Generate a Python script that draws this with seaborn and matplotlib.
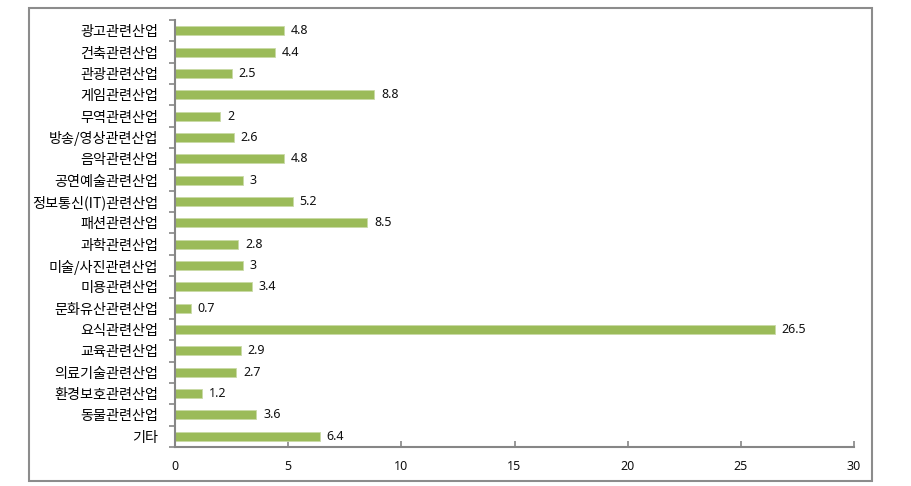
import matplotlib
matplotlib.use("Agg")
import matplotlib.pyplot as plt
import seaborn as sns
import pandas as pd
from matplotlib.patches import Rectangle

categories = ["광고관련산업", "건축관련산업", "관광관련산업", "게임관련산업", "무역관련산업",
              "방송/영상관련산업", "음악관련산업", "공연예술관련산업", "정보통신(IT)관련산업",
              "패션관련산업", "과학관련산업", "미술/사진관련산업", "미용관련산업",
              "문화유산관련산업", "요식관련산업", "교육관련산업", "의료기술관련산업",
              "환경보호관련산업", "동물관련산업", "기타"]
values = [4.8, 4.4, 2.5, 8.8, 2, 2.6, 4.8, 3, 5.2, 8.5, 2.8, 3, 3.4, 0.7, 26.5, 2.9, 2.7, 1.2, 3.6, 6.4]
value_labels = ["4.8", "4.4", "2.5", "8.8", "2", "2.6", "4.8", "3", "5.2", "8.5", "2.8", "3", "3.4",
                "0.7", "26.5", "2.9", "2.7", "1.2", "3.6", "6.4"]
xticks = [0, 5, 10, 15, 20, 25, 30]

sns.set_theme(style="white")
plt.rcParams['font.family'] = ['Noto Sans CJK KR', 'DejaVu Sans']

df = pd.DataFrame({"cat": categories, "val": values})

fig = plt.figure(figsize=(9.12, 4.86), dpi=100)
ax = fig.add_axes([175/912, 1-447/486, (854-175)/912, (447-20)/486])

sns.barplot(data=df, y="cat", x="val", orient="h", color="#9BBB59", saturation=1,
            width=0.42, edgecolor="#C9DAA6", linewidth=0.6, ax=ax)

for i, (v, lab) in enumerate(zip(values, value_labels)):
    ax.text(v + 0.3, i, lab, va="center", ha="left", fontsize=9, color="#111111",
            family=['Noto Sans', 'DejaVu Sans'])

ax.set_xlim(0, 30)
ax.set_ylim(len(categories) - 0.5, -0.5)
ax.set_xticks(xticks)
ax.set_xticklabels([str(t) for t in xticks], fontsize=9, family=['Noto Sans', 'DejaVu Sans'],
                   color="#111111")
ax.set_yticks([i - 0.5 for i in range(len(categories) + 1)], minor=False)
ax.set_yticklabels([])
ax.set_yticks(range(len(categories)), minor=True)
ax.set_yticklabels(categories, minor=True, fontsize=10.2, color="#000000")
ax.tick_params(axis="y", which="minor", length=0, pad=12)
ax.tick_params(axis="y", which="major", length=4, width=1.2, color="#868686", direction="out", left=True)
ax.tick_params(axis="x", length=4, width=1.2, color="#868686", direction="in", bottom=True, pad=9)
ax.set_xlabel("")
ax.set_ylabel("")
for s in ["top", "right"]:
    ax.spines[s].set_visible(False)
for s in ["left", "bottom"]:
    ax.spines[s].set_color("#868686")
    ax.spines[s].set_linewidth(1.5)

fig.patches.append(Rectangle((29/912, 1-481/486), (872-29)/912, (481-8)/486,
                             transform=fig.transFigure, fill=False, edgecolor="#8c8c8c", linewidth=1.5))

fig.savefig("out.png", dpi=100)
